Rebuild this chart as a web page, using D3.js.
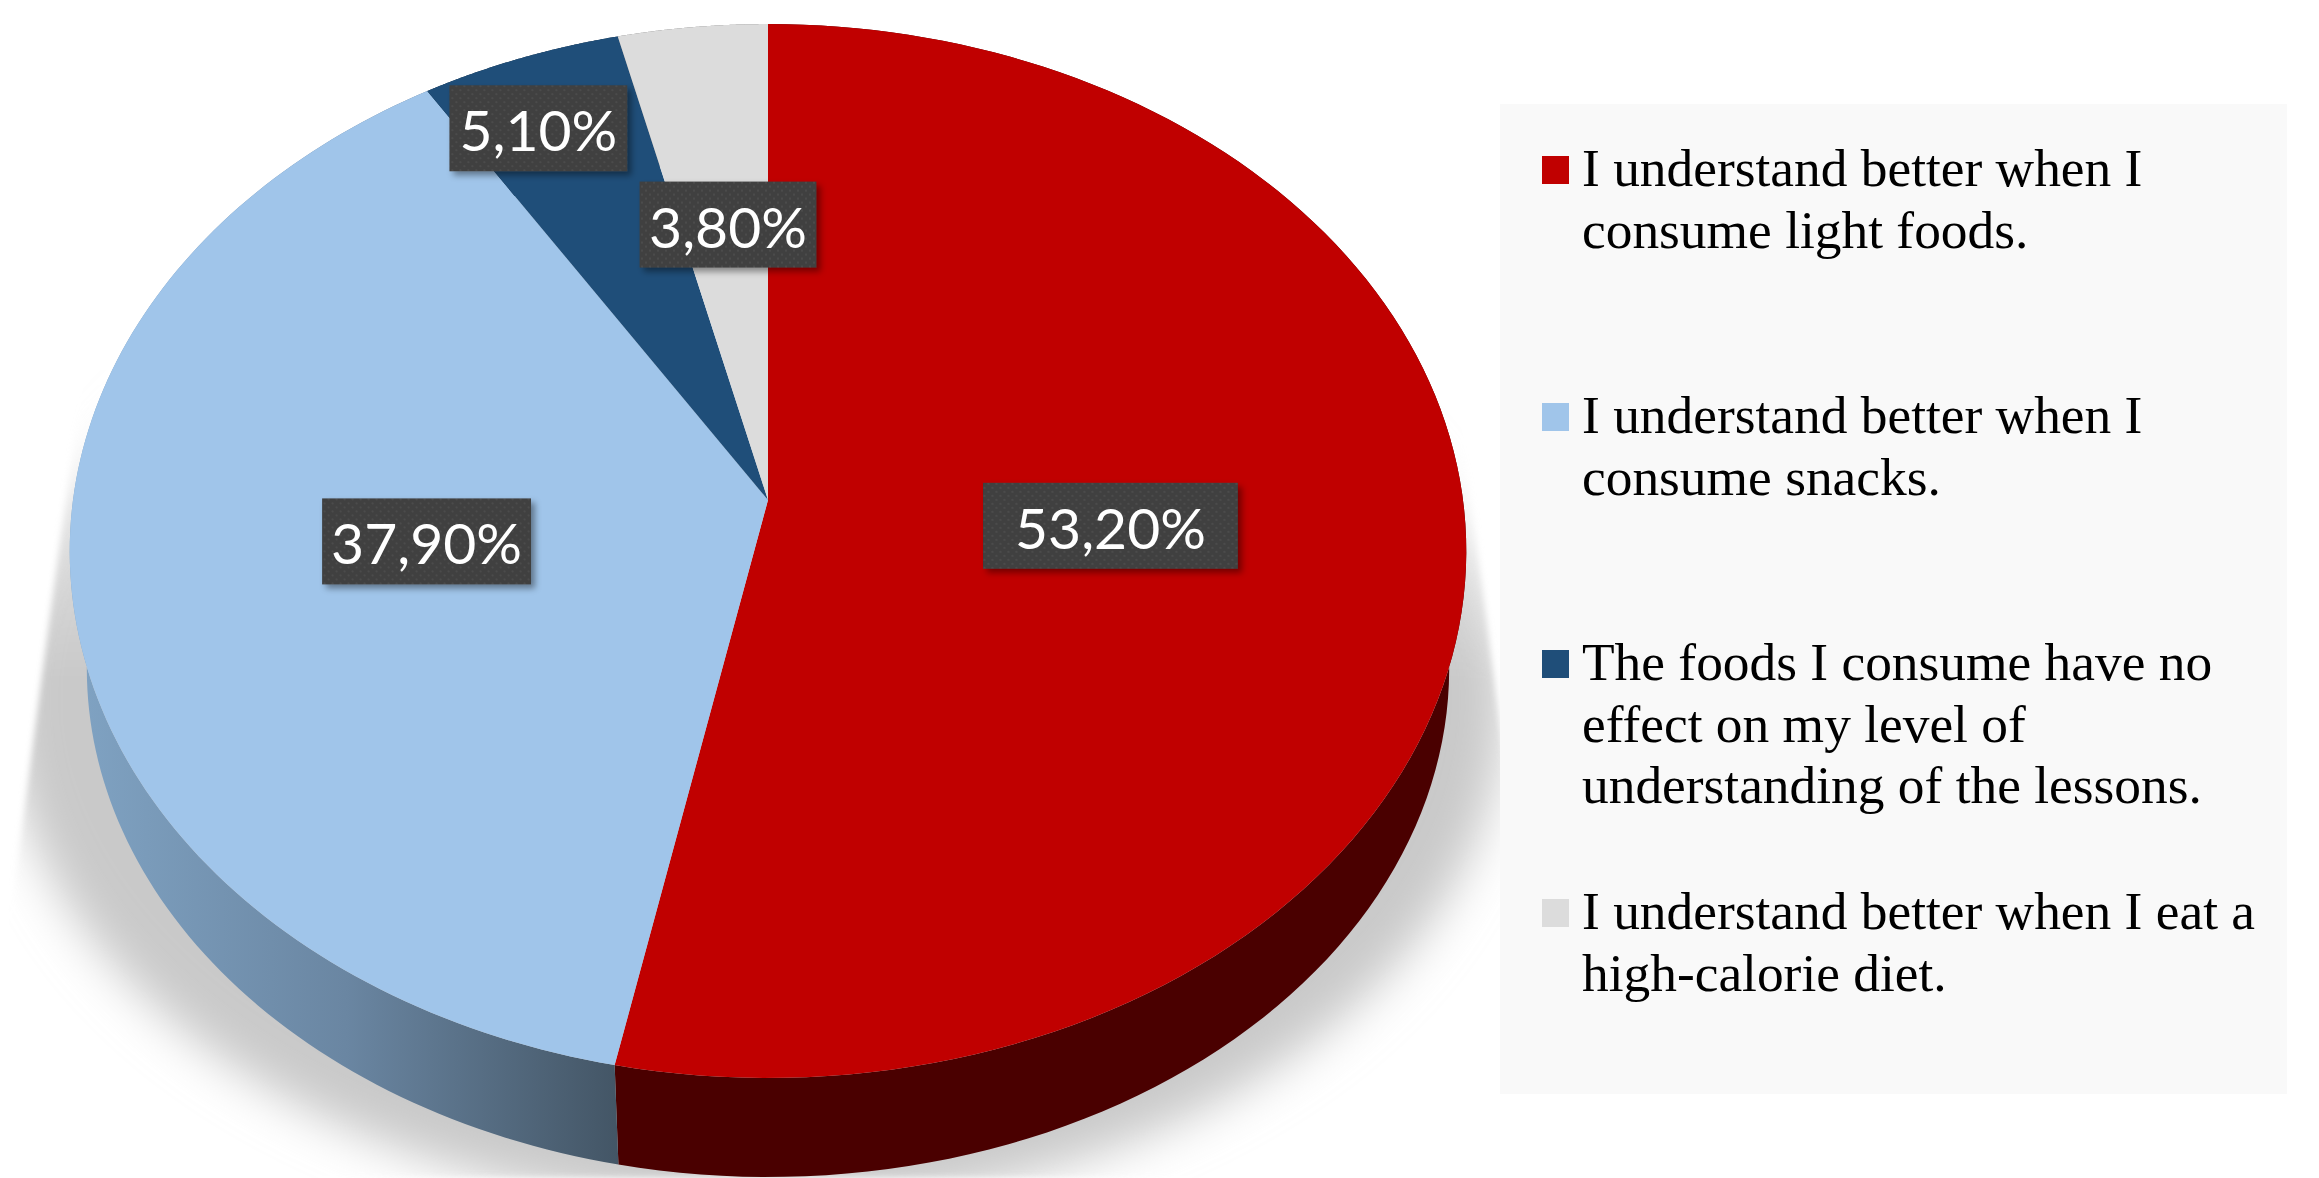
<!DOCTYPE html>
<html>
<head>
<meta charset="utf-8">
<script src="https://cdn.jsdelivr.net/npm/d3@7"></script>
<style>
  html, body { margin: 0; padding: 0; background: #fff; }
  svg { display: block; }
</style>
</head>
<body>
<svg id="chart" width="2319" height="1178"></svg>
<script>
// Survey shares, clockwise from twelve o'clock
const values = [53.2, 37.9, 5.1, 3.8];
const legendLines = [
  ["I understand better when I", "consume light foods."],
  ["I understand better when I", "consume snacks."],
  ["The foods I consume have no", "effect on my level of", "understanding of the lessons."],
  ["I understand better when I eat a", "high-calorie diet."]
];
const topColors = ["#c00000", "#a0c5ea", "#1f4e79", "#dcdcdc"];

// Label placement: radial fraction along each slice's mid-angle, fine nudge, box padding
const labelRadius = [0.49, 0.495, 0.83, 0.56];
const labelNudge = [[2, 0], [0, -5], [-21, 0], [4, 0]];
const labelPad = [32, 9, 10, 9.5];

const svg = d3.select("#chart");
const defs = svg.append("defs");

// Perspective disc: a unit circle on a tilted plane projected to the screen
const K = 0.0968;
const topPlane = { cx: 768, cy: 500, a: 695, b: 522 };
const basePlane = { cx: 768, cy: 619, a: 678, b: 504 };
function project(plane, angle, r = 1) {
  const u = r * Math.sin(angle), v = -r * Math.cos(angle), w = 1 - K * v;
  return [plane.cx + plane.a * u / w, plane.cy + plane.b * v / w];
}

const arcs = d3.pie().sort(null).value(d => d)(values);
const line = d3.line();
const rim = (plane, a0, a1) => d3.range(0, 121).map(i => project(plane, a0 + (a1 - a0) * i / 120));

// ---- Soft ground shadow ----
const fade = defs.append("linearGradient").attr("id", "shadowFade")
  .attr("gradientUnits", "userSpaceOnUse").attr("x1", 0).attr("x2", 0).attr("y1", 300).attr("y2", 680);
fade.append("stop").attr("offset", 0).attr("stop-color", "#000");
fade.append("stop").attr("offset", 0.3).attr("stop-color", "#666");
fade.append("stop").attr("offset", 1).attr("stop-color", "#fff");
defs.append("filter").attr("id", "blurWide").attr("x", "-20%").attr("y", "-20%").attr("width", "140%").attr("height", "140%")
  .append("feGaussianBlur").attr("stdDeviation", 24);
defs.append("filter").attr("id", "blurEdge").attr("x", "-20%").attr("y", "-20%").attr("width", "140%").attr("height", "140%")
  .append("feGaussianBlur").attr("stdDeviation", 3);
const wedge = defs.append("mask").attr("id", "shadowWedge").attr("maskUnits", "userSpaceOnUse")
  .attr("x", 0).attr("y", 0).attr("width", 2319).attr("height", 1178);
wedge.append("path")
  .attr("d", line([[88, 330], [1450, 330], [1520, 880], [1560, 1178], [0, 1178], [8, 930]]) + "Z")
  .attr("fill", "url(#shadowFade)").attr("filter", "url(#blurEdge)");
svg.append("g").attr("mask", "url(#shadowWedge)")
  .append("ellipse")
  .attr("cx", 755).attr("cy", 700).attr("rx", 750).attr("ry", 510)
  .attr("fill", "#c9c9c9").attr("filter", "url(#blurWide)");

// ---- Side wall ----
const sideGrad = defs.append("linearGradient").attr("id", "sideBlue")
  .attr("gradientUnits", "userSpaceOnUse").attr("x1", 72).attr("x2", 620).attr("y1", 0).attr("y2", 0);
sideGrad.append("stop").attr("offset", 0).attr("stop-color", "#80a3c3");
sideGrad.append("stop").attr("offset", 0.5).attr("stop-color", "#6a86a2");
sideGrad.append("stop").attr("offset", 1).attr("stop-color", "#435565");
const sideFills = ["#4a0000", "url(#sideBlue)", "#10273d", "#6e6e6e"];

svg.append("g").selectAll("path").data(arcs).join("path")
  .attr("d", d => line(rim(topPlane, d.startAngle, d.endAngle)
      .concat(rim(basePlane, d.startAngle, d.endAngle).reverse())) + "Z")
  .attr("fill", (d, i) => sideFills[i]);

// ---- Top face ----
svg.append("g").selectAll("path").data(arcs).join("path")
  .attr("d", d => line([project(topPlane, 0, 0)].concat(rim(topPlane, d.startAngle, d.endAngle))) + "Z")
  .attr("fill", (d, i) => topColors[i]);

// ---- Data labels ----
const pattern = defs.append("pattern").attr("id", "dots").attr("patternUnits", "userSpaceOnUse")
  .attr("width", 8).attr("height", 8);
pattern.append("rect").attr("width", 8).attr("height", 8).attr("fill", "#3f3f3f");
pattern.append("circle").attr("cx", 2).attr("cy", 2).attr("r", 1).attr("fill", "#505050");
pattern.append("circle").attr("cx", 6).attr("cy", 6).attr("r", 1).attr("fill", "#505050");
const boxShadow = defs.append("filter").attr("id", "boxShadow").attr("x", "-10%").attr("y", "-20%").attr("width", "125%").attr("height", "150%");
boxShadow.append("feDropShadow").attr("dx", 4).attr("dy", 4).attr("stdDeviation", 3)
  .attr("flood-color", "#000").attr("flood-opacity", 0.4);

const pct = d3.formatLocale({ decimal: ",", thousands: ".", grouping: [3], currency: ["", ""] }).format(".2f");
const labels = svg.append("g").selectAll("g").data(arcs).join("g")
  .attr("transform", (d, i) => {
    const [x, y] = project(topPlane, (d.startAngle + d.endAngle) / 2, labelRadius[i]);
    return `translate(${x + labelNudge[i][0]},${y + labelNudge[i][1]})`;
  });
const labelText = labels.append("text")
  .attr("text-anchor", "middle").attr("y", 23)
  .attr("font-family", "Lato, 'Open Sans', sans-serif").attr("font-size", 57)
  .attr("fill", "#fff")
  .text(d => pct(d.value) + "%");
labels.insert("rect", "text")
  .each(function (d, i) {
    const w = labelText.nodes()[i].getComputedTextLength() + 2 * labelPad[i];
    d3.select(this).attr("x", -w / 2).attr("width", w);
  })
  .attr("y", -43).attr("height", 86)
  .attr("fill", "url(#dots)").attr("filter", "url(#boxShadow)");

// ---- Legend ----
const legend = svg.append("g");
legend.append("rect").attr("x", 1500).attr("y", 104).attr("width", 787).attr("height", 990).attr("fill", "#f9f9f9");
const rowTops = [186, 433, 680, 929];
const rows = legend.selectAll("g").data(legendLines).join("g")
  .attr("transform", (d, i) => `translate(1542,${rowTops[i]})`);
rows.append("rect").attr("y", -30).attr("width", 27).attr("height", 28)
  .attr("fill", (d, i) => topColors[i]);
rows.append("text")
  .attr("font-family", "'Liberation Serif', serif").attr("font-size", 53.4).attr("fill", "#000")
  .selectAll("tspan").data(d => d).join("tspan")
  .attr("x", 40).attr("y", (d, i) => i * 61.5)
  .text(d => d);
</script>
</body>
</html>
